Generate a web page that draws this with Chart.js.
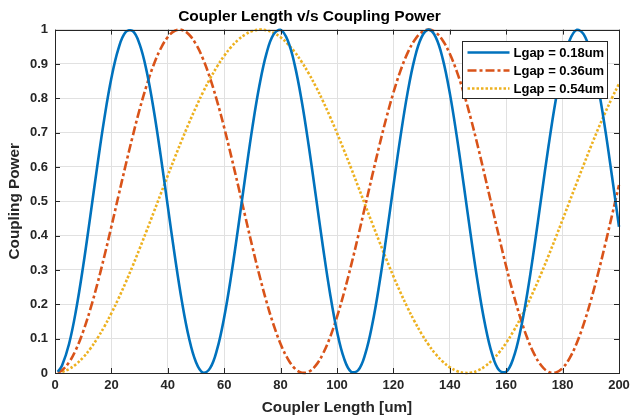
<!DOCTYPE html>
<html>
<head>
<meta charset="utf-8">
<script src="https://cdn.jsdelivr.net/npm/chart.js@4.4.1/dist/chart.umd.min.js"></script>
<style>
  body { margin: 0; background: #fff; }
  #chart { display: block; }
</style>
</head>
<body>
<canvas id="chart" width="630" height="420"></canvas>
<script>

// coupler length in um
const lengths = [1, 2.5, 5, 7.5, 10, 12.5, 15, 17.5, 20, 22.5, 25, 27.5, 30, 32.5, 35, 37.5, 40, 42.5, 45, 47.5,
  50, 52.5, 55, 57.5, 60, 62.5, 65, 67.5, 70, 72.5, 75, 77.5, 80, 82.5, 85, 87.5, 90, 92.5, 95, 97.5,
  100, 102.5, 105, 107.5, 110, 112.5, 115, 117.5, 120, 122.5, 125, 127.5, 130, 132.5, 135, 137.5, 140, 142.5, 145, 147.5,
  150, 152.5, 155, 157.5, 160, 162.5, 165, 167.5, 170, 172.5, 175, 177.5, 180, 182.5, 185, 187.5, 190, 192.5, 195, 197.5, 200];

const power018 = [0.0035, 0.0218, 0.0853, 0.1849, 0.3119, 0.4555, 0.6031, 0.7415, 0.8588, 0.9448, 0.9921, 0.9965, 0.9575, 0.8787, 0.7668, 0.6316, 0.4851, 0.3399, 0.2085, 0.1026,
  0.0313, 0.0009, 0.0140, 0.0695, 0.1625, 0.2849, 0.4260, 0.5737, 0.7152, 0.8376, 0.9307, 0.9860, 0.9991, 0.9687, 0.8974, 0.7914, 0.6602, 0.5151, 0.3683, 0.2331,
  0.1213, 0.0424, 0.0035, 0.0079, 0.0551, 0.1413, 0.2587, 0.3971, 0.5446, 0.6876, 0.8150, 0.9147, 0.9782, 1.0000, 0.9782, 0.9147, 0.8150, 0.6876, 0.5446, 0.3971,
  0.2587, 0.1413, 0.0551, 0.0079, 0.0035, 0.0424, 0.1213, 0.2331, 0.3683, 0.5151, 0.6602, 0.7914, 0.8974, 0.9687, 0.9991, 0.9860, 0.9307, 0.8376, 0.7152, 0.5737, 0.4260];

const power036 = [0.0013, 0.0079, 0.0313, 0.0695, 0.1214, 0.1851, 0.2588, 0.3401, 0.4264, 0.5155, 0.6034, 0.6879, 0.7674, 0.8378, 0.8978, 0.9450, 0.9783, 0.9966, 0.9991, 0.9858,
  0.9573, 0.9143, 0.8582, 0.7910, 0.7145, 0.6308, 0.5436, 0.4547, 0.3672, 0.2841, 0.2077, 0.1406, 0.0847, 0.0420, 0.0137, 0.0008, 0.0037, 0.0222, 0.0558, 0.1033,
  0.1635, 0.2343, 0.3133, 0.3984, 0.4867, 0.5750, 0.6616, 0.7429, 0.8163, 0.8798, 0.9314, 0.9692, 0.9924, 1.0000, 0.9918, 0.9681, 0.9295, 0.8776, 0.8136, 0.7398,
  0.6582, 0.5715, 0.4832, 0.3949, 0.3100, 0.2312, 0.1610, 0.1012, 0.0541, 0.0211, 0.0032, 0.0010, 0.0146, 0.0434, 0.0867, 0.1430, 0.2107, 0.2873, 0.3708, 0.4583, 0.5473];

const power054 = [0.0005, 0.0029, 0.0115, 0.0258, 0.0456, 0.0706, 0.1006, 0.1353, 0.1741, 0.2166, 0.2625, 0.3110, 0.3620, 0.4144, 0.4677, 0.5216, 0.5749, 0.6277, 0.6788, 0.7278,
  0.7742, 0.8179, 0.8573, 0.8928, 0.9237, 0.9498, 0.9706, 0.9861, 0.9958, 0.9999, 0.9981, 0.9907, 0.9775, 0.9588, 0.9349, 0.9057, 0.8720, 0.8341, 0.7921, 0.7467,
  0.6987, 0.6483, 0.5965, 0.5430, 0.4892, 0.4356, 0.3828, 0.3313, 0.2816, 0.2346, 0.1906, 0.1503, 0.1140, 0.0820, 0.0550, 0.0331, 0.0166, 0.0057, 0.0005, 0.0010,
  0.0074, 0.0194, 0.0371, 0.0600, 0.0880, 0.1208, 0.1580, 0.1993, 0.2438, 0.2914, 0.3414, 0.3934, 0.4465, 0.5000, 0.5538, 0.6068, 0.6587, 0.7090, 0.7560, 0.8008, 0.8420];

const seriesLabels = ['Lgap = 0.18um', 'Lgap = 0.36um', 'Lgap = 0.54um'];
const xTicks = [0, 20, 40, 60, 80, 100, 120, 140, 160, 180, 200];
const yTicks = [0, 0.1, 0.2, 0.3, 0.4, 0.5, 0.6, 0.7, 0.8, 0.9, 1];
const yTickLabels = ['0', '0.1', '0.2', '0.3', '0.4', '0.5', '0.6', '0.7', '0.8', '0.9', '1'];

const FONT = '"Liberation Sans", Arial, Helvetica, sans-serif';
const INK = '#262626';

function points(ys) {
    return lengths.map((x, i) => ({x: x, y: ys[i]}));
}

// box on all four sides, inward ticks, and the legend box
const matlabAxes = {
    id: 'matlabAxes',
    afterDraw(chart) {
        const ctx = chart.ctx;
        const a = chart.chartArea;
        const xs = chart.scales.x;
        const ys = chart.scales.y;
        ctx.save();
        ctx.strokeStyle = INK;
        ctx.lineWidth = 1;
        ctx.beginPath();
        xTicks.forEach(v => {
            const px = Math.round(xs.getPixelForValue(v)) + 0.5;
            ctx.moveTo(px, a.bottom); ctx.lineTo(px, a.bottom - 5);
            ctx.moveTo(px, a.top); ctx.lineTo(px, a.top + 5);
        });
        yTicks.forEach(v => {
            const py = Math.round(ys.getPixelForValue(v)) + 0.5;
            ctx.moveTo(a.left, py); ctx.lineTo(a.left + 5, py);
            ctx.moveTo(a.right, py); ctx.lineTo(a.right - 5, py);
        });
        ctx.stroke();
        ctx.strokeRect(Math.round(a.left) + 0.5, Math.round(a.top) + 0.5,
            Math.round(a.right - a.left), Math.round(a.bottom - a.top));

        // legend
        const bx = 462.5, by = 41.5, bw = 145, bh = 57;
        ctx.fillStyle = '#fff';
        ctx.fillRect(bx, by, bw, bh);
        ctx.strokeStyle = INK;
        ctx.strokeRect(bx, by, bw, bh);
        ctx.font = 'bold 13px ' + FONT;
        ctx.textBaseline = 'middle';
        chart.data.datasets.forEach((ds, i) => {
            const ry = by + 11 + i * 18;
            ctx.strokeStyle = ds.borderColor;
            ctx.lineWidth = ds.borderWidth;
            ctx.setLineDash(ds.borderDash || []);
            ctx.beginPath();
            ctx.moveTo(bx + 5, ry);
            ctx.lineTo(bx + 47, ry);
            ctx.stroke();
            ctx.setLineDash([]);
            ctx.fillStyle = '#000';
            ctx.fillText(ds.label, bx + 51, ry + 0.5);
        });
        ctx.restore();
    }
};

new Chart(
    document.getElementById('chart'),
    {
        type: 'line',
        data: {
            datasets: [
                {
                    label: seriesLabels[0],
                    data: points(power018),
                    borderColor: '#0072BD',
                    borderWidth: 2.6,
                },
                {
                    label: seriesLabels[1],
                    data: points(power036),
                    borderColor: '#D95319',
                    borderWidth: 2.6,
                    borderDash: [9, 3, 3, 3],
                },
                {
                    label: seriesLabels[2],
                    data: points(power054),
                    borderColor: '#EDB120',
                    borderWidth: 2.6,
                    borderDash: [2.5, 2],
                }
            ]
        },
        options: {
            responsive: false,
            animation: false,
            layout: {
                padding: {left: 0, right: 11, top: 0, bottom: 0}
            },
            elements: {
                point: {radius: 0},
                line: {tension: 0.4, fill: false}
            },
            datasets: {
                line: {clip: 4}
            },
            plugins: {
                title: {
                    display: true,
                    text: 'Coupler Length v/s Coupling Power',
                    color: '#000',
                    font: {family: FONT, size: 15.5, weight: 'bold'},
                    padding: {top: 7, bottom: 4}
                },
                legend: {
                    display: false
                },
                tooltip: {
                    enabled: false
                }
            },
            scales: {
                x: {
                    type: 'linear',
                    min: 0,
                    max: 200,
                    afterBuildTicks: s => { s.ticks = xTicks.map(v => ({value: v})); },
                    afterFit: s => { s.height = 47; s.paddingRight = 0; s.paddingLeft = 0; },
                    ticks: {
                        color: INK,
                        padding: 5,
                        maxRotation: 0,
                        font: {family: FONT, size: 13, weight: 'bold'}
                    },
                    title: {
                        display: true,
                        text: 'Coupler Length [um]',
                        color: INK,
                        font: {family: FONT, size: 15.3, weight: 'bold'},
                        padding: {top: 0, bottom: 3}
                    },
                    grid: {
                        color: '#e1e1e1',
                        drawTicks: false
                    },
                    border: {
                        display: false
                    }
                },
                y: {
                    type: 'linear',
                    min: 0,
                    max: 1,
                    afterBuildTicks: s => { s.ticks = yTicks.map(v => ({value: v})); },
                    afterFit: s => { s.width = 55; s.paddingTop = 0; s.paddingBottom = 0; },
                    ticks: {
                        color: INK,
                        padding: 7,
                        font: {family: FONT, size: 13, weight: 'bold'},
                        callback: (value, index) => yTickLabels[index]
                    },
                    title: {
                        display: true,
                        text: 'Coupling Power',
                        color: INK,
                        font: {family: FONT, size: 15.3, weight: 'bold'},
                        padding: {top: 6, bottom: 0}
                    },
                    grid: {
                        color: '#e1e1e1',
                        drawTicks: false
                    },
                    border: {
                        display: false
                    }
                }
            }
        },
        plugins: [matlabAxes]
    }
);

</script>
</body>
</html>
